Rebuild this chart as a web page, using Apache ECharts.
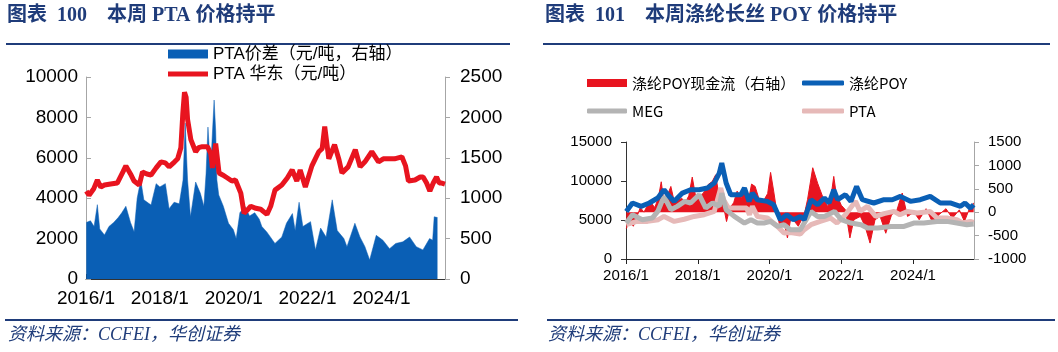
<!DOCTYPE html>
<html>
<head>
<meta charset="utf-8">
<title>PTA / POY</title>
<script src="https://cdn.jsdelivr.net/npm/echarts@6.0.0/dist/echarts.min.js"></script>
<style>
  html, body { margin: 0; padding: 0; background: #fff; }
  #main { width: 1058px; height: 352px; }
</style>
</head>
<body>
<div id="main"></div>
<script>
// 图表100 PTA华东价格（左轴）
var ptaDates = ['2016-01-04','2016-02-01','2016-03-15','2016-04-22','2016-05-25','2016-07-01','2016-09-01','2016-11-06',
  '2017-01-01','2017-01-30','2017-03-15','2017-04-20','2017-06-10','2017-07-12','2017-08-25','2017-10-05','2017-11-25',
  '2018-01-12','2018-02-25','2018-04-01','2018-05-25','2018-06-25','2018-07-26','2018-08-15','2018-09-01','2018-09-17','2018-10-01','2018-11-03','2018-12-20',
  '2019-01-18','2019-02-25','2019-04-16','2019-05-18','2019-06-03','2019-07-05','2019-08-08','2019-09-13','2019-10-30','2019-12-13',
  '2020-01-18','2020-03-10','2020-04-12','2020-05-11','2020-06-17','2020-08-07','2020-09-24','2020-11-25',
  '2021-01-01','2021-02-13','2021-04-20','2021-06-13','2021-07-31','2021-09-16','2021-10-19','2021-12-09',
  '2022-02-13','2022-04-20','2022-05-23','2022-06-18','2022-07-28','2022-09-24','2022-11-07','2022-12-06',
  '2023-02-06','2023-04-16','2023-06-03','2023-07-20','2023-09-27','2023-12-02',
  '2024-01-19','2024-03-10','2024-05-08','2024-07-20','2024-08-26','2024-09-24','2024-11-28',
  '2025-01-19','2025-02-17','2025-03-21','2025-04-23','2025-05-26','2025-06-28','2025-07-24','2025-08-19','2025-09-20'];
var ptaPrice = [4350,4150,4450,4900,4550,4650,4700,4750,
  5300,5600,5200,4850,4650,5300,5200,5150,5500,
  5800,5750,5550,5800,5950,6500,8200,9250,9000,7900,6900,6300,
  6500,6550,6550,6200,5500,6700,5250,5150,5000,4850,
  4900,4250,3250,3400,3600,3500,3450,3200,
  3600,4400,4650,5000,5400,4850,5400,4550,
  5600,6300,6450,7550,5950,6650,5900,5250,
  5550,6400,5550,5800,6300,5800,
  5950,5950,5950,6050,5600,4850,4900,
  5050,5050,4750,4350,4750,5050,4750,4750,4700];

// PTA价差（右轴）
var spreadDates = ['2016-01-04','2016-02-15','2016-03-20','2016-04-22','2016-05-15','2016-07-01','2016-08-15','2016-10-01','2016-11-15','2016-12-20',
  '2017-01-30','2017-03-15','2017-04-20','2017-05-20','2017-06-25','2017-07-25','2017-10-05','2017-11-25',
  '2018-01-01','2018-02-25','2018-04-01','2018-05-20','2018-07-10','2018-08-17','2018-09-08','2018-10-01','2018-10-30','2018-12-20',
  '2019-02-06','2019-03-10','2019-04-01','2019-04-20','2019-05-15','2019-06-20','2019-07-05','2019-07-17','2019-08-05','2019-09-20','2019-11-10','2019-12-28',
  '2020-01-25','2020-03-01','2020-04-20','2020-06-05','2020-07-26','2020-09-10','2020-10-05','2020-11-25',
  '2021-02-13','2021-04-20','2021-06-05','2021-08-03','2021-08-30','2021-10-08','2021-11-15',
  '2022-01-30','2022-03-18','2022-05-08','2022-07-01','2022-09-01','2022-10-20','2022-12-25',
  '2023-01-25','2023-04-12','2023-06-01','2023-07-20','2023-09-06','2023-11-10',
  '2024-01-15','2024-03-20','2024-05-20','2024-07-30','2024-10-05','2024-12-10',
  '2025-02-15','2025-04-20','2025-05-20','2025-06-05','2025-07-07'];
var spreadVals = [700,720,650,920,620,545,650,700,760,820,
  900,700,585,1000,1225,980,916,1180,
  1140,1180,870,950,930,1225,1930,1225,770,1200,
  1060,900,1300,1880,1350,2215,1840,1225,1040,900,690,610,
  500,820,900,780,820,740,650,580,
  440,520,690,810,600,950,650,
  710,360,630,520,980,600,500,
  400,690,520,400,235,540,
  480,375,440,460,520,400,
  360,500,480,770,760];

// 图表101 涤纶POY / MEG / PTA（左轴）
var poyDates = ['2016-01-04','2016-03-06','2016-06-03','2016-08-25','2016-11-20',
  '2017-01-23','2017-03-15','2017-05-05','2017-07-27','2017-10-19',
  '2018-01-15','2018-04-08','2018-06-17','2018-08-07','2018-09-02','2018-10-16','2018-12-02',
  '2019-03-14','2019-04-20','2019-06-06','2019-07-09','2019-08-29','2019-12-10',
  '2020-02-13','2020-04-20','2020-06-24','2020-09-01','2020-11-10','2020-12-20',
  '2021-02-27','2021-05-04','2021-07-12','2021-08-29','2021-10-16','2021-11-25',
  '2022-02-13','2022-04-08','2022-06-05','2022-08-03','2022-11-28',
  '2023-03-10','2023-06-03','2023-08-25','2023-12-05',
  '2024-03-14','2024-06-24','2024-10-05',
  '2025-01-15','2025-04-27','2025-06-13','2025-08-07','2025-09-10'];
var poyVals = [6100,7180,6750,7180,7820,
  8880,8030,7390,8450,8880,
  8880,9100,9740,11000,12300,9740,8240,
  8240,9100,7390,8450,7600,7390,
  6960,5040,5680,5040,5460,5040,
  7600,6960,7820,7180,8880,7600,
  8240,7390,9310,7600,7180,
  7600,7600,8030,7390,
  7600,8030,7180,
  7180,6750,7180,6530,6960];

var megDates = ['2016-01-04','2016-03-06','2016-06-15','2016-09-25','2016-11-20',
  '2017-01-23','2017-04-01','2017-06-06','2017-08-20','2017-10-19',
  '2018-01-15','2018-03-22','2018-05-30','2018-08-07','2018-09-02','2018-10-16',
  '2019-01-08','2019-04-20','2019-06-25','2019-08-29','2019-11-06',
  '2020-01-12','2020-03-22','2020-05-27','2020-07-31','2020-11-10','2020-12-20',
  '2021-02-27','2021-05-04','2021-07-12','2021-10-23',
  '2022-01-01','2022-04-08','2022-07-20','2022-09-24',
  '2023-01-05','2023-05-20','2023-10-01',
  '2024-01-08','2024-04-20','2024-09-01','2024-12-10',
  '2025-03-21','2025-07-01','2025-09-10'];
var megVals = [4610,5680,5040,5250,6100,
  8030,6320,6750,7390,7180,
  8240,6530,7180,6750,8450,6320,
  5460,4610,5040,4610,4610,
  4820,4180,4400,3760,3760,4610,
  6100,5460,5460,6100,
  5040,4610,4400,3970,
  3970,4180,4180,
  4610,4610,4820,4820,
  4610,4400,4500];

var pta2Dates = ['2016-01-04','2016-04-20','2016-08-07','2016-11-25',
  '2017-01-23','2017-05-05','2017-08-15','2017-11-25',
  '2018-03-06','2018-06-17','2018-08-22','2018-09-20','2018-11-08',
  '2019-01-30','2019-05-12','2019-06-10','2019-07-09','2019-08-29','2019-12-10',
  '2020-03-22','2020-05-27','2020-07-31','2020-11-10','2020-12-20',
  '2021-02-27','2021-05-30','2021-09-13','2021-11-18',
  '2022-02-13','2022-05-25','2022-07-10','2022-09-24','2022-12-17',
  '2023-03-10','2023-06-20','2023-08-20','2023-11-03',
  '2024-02-13','2024-06-24','2024-09-01','2024-12-10',
  '2025-03-21','2025-05-20','2025-08-07','2025-09-10'];
var pta2Vals = [4400,4820,4820,5040,
  5460,4820,5100,5460,
  5680,6100,9100,7600,6530,
  6530,6530,5680,6750,5460,5250,
  4180,3330,3400,3200,3760,
  4400,4820,5250,4610,
  5680,7390,6100,6750,5460,
  5820,6100,5680,6100,
  5890,6100,5250,5250,
  5040,4610,4820,4700];

// 涤纶POY现金流（右轴）
var cashDates = ['2016-01-04','2016-02-06','2016-03-15','2016-04-20','2016-05-25','2016-07-01','2016-08-07','2016-09-13','2016-10-20','2016-11-25','2016-12-25',
  '2017-01-20','2017-02-25','2017-04-01','2017-05-08','2017-06-13','2017-07-20','2017-08-25','2017-10-01','2017-11-06','2017-12-13',
  '2018-01-20','2018-02-25','2018-04-20','2018-05-25','2018-07-01','2018-08-07','2018-09-13','2018-10-20','2018-11-25',
  '2019-01-01','2019-02-06','2019-03-15','2019-04-20','2019-05-25','2019-07-01','2019-08-07','2019-09-13','2019-10-20','2019-12-13',
  '2020-01-12','2020-02-13','2020-03-15','2020-04-20','2020-05-25','2020-07-01','2020-08-07','2020-09-13','2020-10-20','2020-12-20',
  '2021-01-23','2021-03-15','2021-05-04','2021-06-25','2021-08-15','2021-09-16','2021-10-16','2021-11-10',
  '2022-01-01','2022-02-13','2022-03-28','2022-05-08','2022-07-13','2022-08-30','2022-10-20','2022-12-10',
  '2023-02-01','2023-03-28','2023-05-27','2023-07-13','2023-09-13','2023-11-06',
  '2024-01-12','2024-03-03','2024-05-12','2024-07-20','2024-09-24','2024-12-02',
  '2025-02-06','2025-04-16','2025-06-07','2025-07-27','2025-09-10'];
var cashVals = [-350,-200,-300,-100,100,0,150,200,100,300,650,
  250,350,550,200,250,300,200,350,750,300,
  350,400,600,650,800,300,200,-200,100,
  200,450,300,500,200,600,550,300,200,400,
  850,450,0,-350,-200,-550,-100,-200,-300,-50,
  270,950,620,330,120,300,765,400,
  150,50,-550,-160,-90,-300,-660,-160,
  -90,-450,-50,0,410,-90,
  0,-160,75,-230,-50,75,
  -130,50,-200,75,200];

var xTicks = [2016, 2018, 2020, 2022, 2024];

// 日期 -> 小数年份
function yr(s) {
  var p = s.split('-');
  return (+p[0]) + (+p[1] - 1) / 12 + (+p[2] - 1) / 365;
}
function pairs(dates, vals) {
  var out = [];
  var n = Math.min(dates.length, vals.length);
  for (var i = 0; i < n; i++) {
    out.push([yr(dates[i]), vals[i]]);
  }
  return out;
}
// 不要千分位
function plain(v) { return String(v); }

var NAVY = '#1f3c7a';
var BLUE = '#0a5fb5';
var RED = '#e8141f';
var GREY = '#b4b4b4';
var PINK = '#e6b9b8';
var sans = "'Liberation Sans', 'Noto Sans CJK SC', sans-serif";
var cjk = "'Noto Sans CJK SC', 'Liberation Sans', sans-serif";
var serif = "'Liberation Serif', 'Noto Sans CJK SC', serif";

function oneLegend(name, left, top, w, h, icon, fontSize, font) {
  return {
    data: [{ name: name, icon: icon }],
    left: left, top: top, padding: 0,
    itemWidth: w, itemHeight: h, itemGap: 0,
    selectedMode: false,
    textStyle: { fontSize: fontSize, color: '#000', fontFamily: font, lineHeight: fontSize + 1 }
  };
}

var chart = echarts.init(document.getElementById('main'));

var option = {
  backgroundColor: '#fff',
  animation: false,
  grid: [
    { left: 86, right: 613, top: 77, bottom: 73 },
    { left: 626, right: 84, top: 142, bottom: 93 }
  ],
  legend: [
    oneLegend('PTA价差（元/吨，右轴）', 168, 45, 40, 9, 'rect', 17, sans),
    oneLegend('PTA 华东（元/吨）', 168, 65, 40, 5, 'rect', 17, sans),
    oneLegend('涤纶POY现金流（右轴）', 587, 75, 40, 8, 'rect', 15, cjk),
    oneLegend('涤纶POY', 802, 75, 42, 5, 'roundRect', 15, cjk),
    oneLegend('MEG', 587, 103, 40, 5, 'roundRect', 15, cjk),
    oneLegend('PTA', 802, 103, 42, 5, 'roundRect', 15, cjk)
  ],
  xAxis: [
    {
      type: 'value', gridIndex: 0, min: 2016, max: 2025.72,
      axisLine: { onZero: false, lineStyle: { color: '#333', width: 1 } },
      axisTick: { show: true, inside: true, length: 5, customValues: xTicks, lineStyle: { color: '#333' } },
      axisLabel: { customValues: xTicks, formatter: function (v) { return v + '/1'; },
        fontSize: 19, color: '#000', fontFamily: sans, margin: 10 },
      splitLine: { show: false }
    },
    {
      type: 'value', gridIndex: 1, min: 2016, max: 2025.7,
      axisLine: { onZero: false, lineStyle: { color: '#222', width: 1 } },
      axisTick: { show: true, inside: false, length: 5, customValues: xTicks, lineStyle: { color: '#222' } },
      axisLabel: { customValues: xTicks, formatter: function (v) { return v + '/1'; },
        fontSize: 15, color: '#000', fontFamily: sans, margin: 9 },
      splitLine: { show: false }
    }
  ],
  yAxis: [
    {
      type: 'value', gridIndex: 0, position: 'left', min: 0, max: 10000, interval: 2000,
      axisLine: { show: true, lineStyle: { color: '#a6a6a6' } },
      axisTick: { show: true, inside: true, length: 5, lineStyle: { color: '#a6a6a6' } },
      axisLabel: { formatter: plain, fontSize: 19, color: '#000', fontFamily: sans, margin: 8 },
      splitLine: { show: false }
    },
    {
      type: 'value', gridIndex: 0, position: 'right', min: 0, max: 2500, interval: 500,
      axisLine: { show: true, lineStyle: { color: '#a6a6a6' } },
      axisTick: { show: true, inside: false, length: 5, lineStyle: { color: '#a6a6a6' } },
      axisLabel: { formatter: plain, fontSize: 19, color: '#000', fontFamily: sans, margin: 15 },
      splitLine: { show: false }
    },
    {
      type: 'value', gridIndex: 1, position: 'left', min: 0, max: 15000, interval: 5000,
      axisLine: { show: true, lineStyle: { color: '#333' } },
      axisTick: { show: true, inside: false, length: 5, lineStyle: { color: '#333' } },
      axisLabel: { formatter: plain, fontSize: 15, color: '#000', fontFamily: sans, margin: 14 },
      splitLine: { show: false }
    },
    {
      type: 'value', gridIndex: 1, position: 'right', min: -1000, max: 1500, interval: 500,
      axisLine: { show: true, lineStyle: { color: '#a6a6a6' } },
      axisTick: { show: true, inside: false, length: 5, lineStyle: { color: '#a6a6a6' } },
      axisLabel: { formatter: plain, fontSize: 15, color: '#000', fontFamily: sans, margin: 14 },
      splitLine: { show: false }
    }
  ],
  series: [
    {
      name: 'PTA价差（元/吨，右轴）', type: 'line', xAxisIndex: 0, yAxisIndex: 1,
      data: pairs(spreadDates, spreadVals), showSymbol: false, z: 1,
      itemStyle: { color: BLUE }, lineStyle: { color: BLUE, width: 0.5 },
      areaStyle: { color: BLUE, opacity: 1 }
    },
    {
      name: 'PTA 华东（元/吨）', type: 'line', xAxisIndex: 0, yAxisIndex: 0,
      data: pairs(ptaDates, ptaPrice), showSymbol: false, z: 3,
      itemStyle: { color: RED }, lineStyle: { color: RED, width: 5 }
    },
    {
      name: '涤纶POY现金流（右轴）', type: 'line', xAxisIndex: 1, yAxisIndex: 3,
      data: pairs(cashDates, cashVals), showSymbol: false, z: 1,
      itemStyle: { color: RED }, lineStyle: { color: RED, width: 1 },
      areaStyle: { color: RED, opacity: 1, origin: 'auto' }
    },
    {
      name: 'PTA', type: 'line', xAxisIndex: 1, yAxisIndex: 2,
      data: pairs(pta2Dates, pta2Vals), showSymbol: false, z: 2,
      itemStyle: { color: PINK }, lineStyle: { color: PINK, width: 5 }
    },
    {
      name: 'MEG', type: 'line', xAxisIndex: 1, yAxisIndex: 2,
      data: pairs(megDates, megVals), showSymbol: false, z: 3,
      itemStyle: { color: GREY }, lineStyle: { color: GREY, width: 5 }
    },
    {
      name: '涤纶POY', type: 'line', xAxisIndex: 1, yAxisIndex: 2,
      data: pairs(poyDates, poyVals), showSymbol: false, z: 4,
      itemStyle: { color: BLUE }, lineStyle: { color: BLUE, width: 5 }
    }
  ],
  graphic: [
    { type: 'text', left: 7, top: 6, style: { text: '图表  100    本周 PTA 价格持平', fill: NAVY,
        font: 'bold 20px ' + serif } },
    { type: 'text', left: 545, top: 6, style: { text: '图表  101    本周涤纶长丝 POY 价格持平', fill: NAVY,
        font: 'bold 20px ' + serif } },
    { type: 'rect', shape: { x: 6, y: 43, width: 504, height: 2 }, style: { fill: NAVY } },
    { type: 'rect', shape: { x: 543, y: 43, width: 507, height: 2 }, style: { fill: NAVY } },
    { type: 'rect', shape: { x: 5, y: 319, width: 513, height: 2 }, style: { fill: NAVY } },
    { type: 'rect', shape: { x: 547, y: 319, width: 508, height: 2 }, style: { fill: NAVY } },
    { type: 'text', left: 8, top: 326, style: { text: '资料来源：CCFEI，华创证券', fill: NAVY,
        font: 'italic 18px ' + serif } },
    { type: 'text', left: 548, top: 326, style: { text: '资料来源：CCFEI，华创证券', fill: NAVY,
        font: 'italic 18px ' + serif } }
  ]
};

chart.setOption(option);
</script>
</body>
</html>
